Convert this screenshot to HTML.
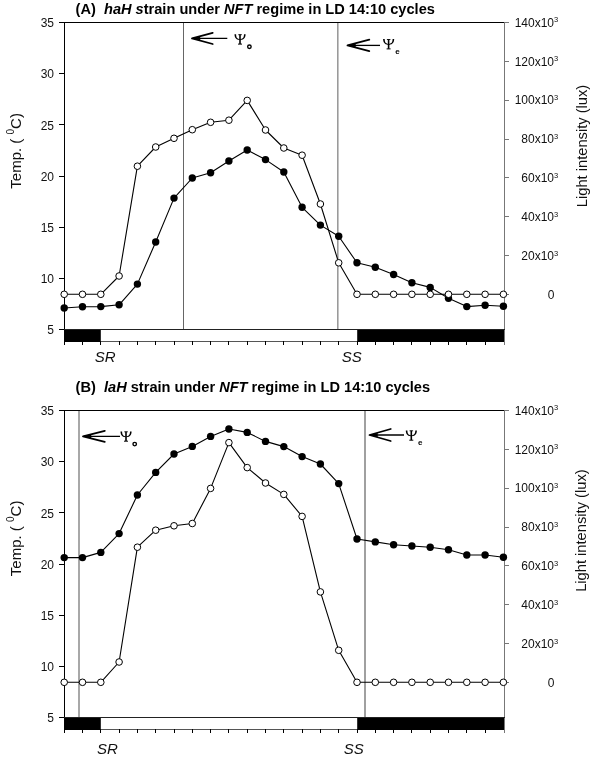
<!DOCTYPE html>
<html><head><meta charset="utf-8"><style>
html,body{margin:0;padding:0;background:#fff;}
svg{display:block;will-change:transform;}
text{font-family:"Liberation Sans", sans-serif;}
</style></head><body>
<svg width="600" height="758" viewBox="0 0 600 758">
<rect width="600" height="758" fill="#fff"/>
<rect x="183" y="22" width="1" height="307" fill="#666"/>
<rect x="337" y="22" width="1" height="307" fill="#9a9a9a"/>
<rect x="338" y="22" width="1" height="307" fill="#c4c4c4"/>
<rect x="64" y="329" width="36.80" height="13" fill="#000"/>
<rect x="357.20" y="329" width="146.80" height="13" fill="#000"/>
<rect x="100.80" y="341" width="256.40" height="1" fill="#555"/>
<rect x="64" y="341" width="1" height="4" fill="#000"/><rect x="82" y="341" width="1" height="4" fill="#000"/><rect x="100" y="341" width="1" height="4" fill="#000"/><rect x="119" y="341" width="1" height="4" fill="#000"/><rect x="137" y="341" width="1" height="4" fill="#000"/><rect x="155" y="341" width="1" height="4" fill="#000"/><rect x="174" y="341" width="1" height="4" fill="#000"/><rect x="192" y="341" width="1" height="4" fill="#000"/><rect x="210" y="341" width="1" height="4" fill="#000"/><rect x="228" y="341" width="1" height="4" fill="#000"/><rect x="247" y="341" width="1" height="4" fill="#000"/><rect x="265" y="341" width="1" height="4" fill="#000"/><rect x="283" y="341" width="1" height="4" fill="#000"/><rect x="302" y="341" width="1" height="4" fill="#000"/><rect x="320" y="341" width="1" height="4" fill="#000"/><rect x="338" y="341" width="1" height="4" fill="#000"/><rect x="357" y="341" width="1" height="4" fill="#000"/><rect x="375" y="341" width="1" height="4" fill="#000"/><rect x="393" y="341" width="1" height="4" fill="#000"/><rect x="411" y="341" width="1" height="4" fill="#000"/><rect x="430" y="341" width="1" height="4" fill="#000"/><rect x="448" y="341" width="1" height="4" fill="#000"/><rect x="466" y="341" width="1" height="4" fill="#000"/><rect x="485" y="341" width="1" height="4" fill="#000"/><rect x="504" y="341" width="1" height="4" fill="#000"/>
<rect x="59" y="22" width="446" height="1" fill="#000"/>
<rect x="64" y="22" width="1" height="323" fill="#000"/>
<rect x="504" y="22" width="1" height="323" fill="#777"/>
<rect x="59" y="329" width="446" height="1" fill="#222"/>
<rect x="59" y="22" width="5" height="1" fill="#000"/><text x="54" y="27.2" text-anchor="end" font-size="12" fill="#111">35</text>
<rect x="59" y="73" width="5" height="1" fill="#000"/><text x="54" y="78.4" text-anchor="end" font-size="12" fill="#111">30</text>
<rect x="59" y="124" width="5" height="1" fill="#000"/><text x="54" y="129.5" text-anchor="end" font-size="12" fill="#111">25</text>
<rect x="59" y="176" width="5" height="1" fill="#000"/><text x="54" y="180.7" text-anchor="end" font-size="12" fill="#111">20</text>
<rect x="59" y="227" width="5" height="1" fill="#000"/><text x="54" y="231.9" text-anchor="end" font-size="12" fill="#111">15</text>
<rect x="59" y="278" width="5" height="1" fill="#000"/><text x="54" y="283.0" text-anchor="end" font-size="12" fill="#111">10</text>
<rect x="59" y="329" width="5" height="1" fill="#000"/><text x="54" y="334.2" text-anchor="end" font-size="12" fill="#111">5</text>
<rect x="505" y="294" width="4" height="1" fill="#777"/><text x="554.4" y="299.4" text-anchor="end" font-size="12" fill="#111">0</text>
<rect x="505" y="255" width="4" height="1" fill="#777"/><text x="554" y="259.7" text-anchor="end" font-size="12" fill="#111">20x10</text><text x="553.9" y="255.5" font-size="7.5" fill="#111">3</text>
<rect x="505" y="216" width="4" height="1" fill="#777"/><text x="554" y="220.9" text-anchor="end" font-size="12" fill="#111">40x10</text><text x="553.9" y="216.7" font-size="7.5" fill="#111">3</text>
<rect x="505" y="177" width="4" height="1" fill="#777"/><text x="554" y="182.0" text-anchor="end" font-size="12" fill="#111">60x10</text><text x="553.9" y="177.8" font-size="7.5" fill="#111">3</text>
<rect x="505" y="139" width="4" height="1" fill="#777"/><text x="554" y="143.2" text-anchor="end" font-size="12" fill="#111">80x10</text><text x="553.9" y="139.0" font-size="7.5" fill="#111">3</text>
<rect x="505" y="100" width="4" height="1" fill="#777"/><text x="554" y="104.3" text-anchor="end" font-size="12" fill="#111">100x10</text><text x="553.9" y="100.1" font-size="7.5" fill="#111">3</text>
<rect x="505" y="61" width="4" height="1" fill="#777"/><text x="554" y="65.5" text-anchor="end" font-size="12" fill="#111">120x10</text><text x="553.9" y="61.3" font-size="7.5" fill="#111">3</text>
<rect x="505" y="22" width="4" height="1" fill="#777"/><text x="554" y="26.6" text-anchor="end" font-size="12" fill="#111">140x10</text><text x="553.9" y="22.4" font-size="7.5" fill="#111">3</text>
<polyline points="64.20,308.00 82.50,306.80 100.80,306.60 119.10,304.80 137.40,284.10 155.70,242.00 174.00,198.10 192.30,178.00 210.60,172.70 228.90,161.00 247.20,150.00 265.50,159.60 283.80,172.00 302.10,207.30 320.40,225.10 338.70,236.30 357.00,262.80 375.30,267.20 393.60,274.50 411.90,282.70 430.20,287.40 448.50,298.30 466.80,306.60 485.10,305.20 503.40,306.30" fill="none" stroke="#000" stroke-width="1.1" stroke-linejoin="round"/>
<circle cx="64.20" cy="308.00" r="3.7" fill="#000"/><circle cx="82.50" cy="306.80" r="3.7" fill="#000"/><circle cx="100.80" cy="306.60" r="3.7" fill="#000"/><circle cx="119.10" cy="304.80" r="3.7" fill="#000"/><circle cx="137.40" cy="284.10" r="3.7" fill="#000"/><circle cx="155.70" cy="242.00" r="3.7" fill="#000"/><circle cx="174.00" cy="198.10" r="3.7" fill="#000"/><circle cx="192.30" cy="178.00" r="3.7" fill="#000"/><circle cx="210.60" cy="172.70" r="3.7" fill="#000"/><circle cx="228.90" cy="161.00" r="3.7" fill="#000"/><circle cx="247.20" cy="150.00" r="3.7" fill="#000"/><circle cx="265.50" cy="159.60" r="3.7" fill="#000"/><circle cx="283.80" cy="172.00" r="3.7" fill="#000"/><circle cx="302.10" cy="207.30" r="3.7" fill="#000"/><circle cx="320.40" cy="225.10" r="3.7" fill="#000"/><circle cx="338.70" cy="236.30" r="3.7" fill="#000"/><circle cx="357.00" cy="262.80" r="3.7" fill="#000"/><circle cx="375.30" cy="267.20" r="3.7" fill="#000"/><circle cx="393.60" cy="274.50" r="3.7" fill="#000"/><circle cx="411.90" cy="282.70" r="3.7" fill="#000"/><circle cx="430.20" cy="287.40" r="3.7" fill="#000"/><circle cx="448.50" cy="298.30" r="3.7" fill="#000"/><circle cx="466.80" cy="306.60" r="3.7" fill="#000"/><circle cx="485.10" cy="305.20" r="3.7" fill="#000"/><circle cx="503.40" cy="306.30" r="3.7" fill="#000"/>
<polyline points="64.20,294.30 82.50,294.30 100.80,294.30 119.10,276.00 137.40,166.20 155.70,147.00 174.00,138.30 192.30,129.70 210.60,122.30 228.90,120.20 247.20,100.40 265.50,130.00 283.80,148.00 302.10,155.20 320.40,204.00 338.70,262.80 357.00,294.30 375.30,294.30 393.60,294.30 411.90,294.30 430.20,294.30 448.50,294.30 466.80,294.30 485.10,294.30 503.40,294.30" fill="none" stroke="#000" stroke-width="1.1" stroke-linejoin="round"/>
<circle cx="64.20" cy="294.30" r="3.3" fill="#fff" stroke="#000" stroke-width="1"/><circle cx="82.50" cy="294.30" r="3.3" fill="#fff" stroke="#000" stroke-width="1"/><circle cx="100.80" cy="294.30" r="3.3" fill="#fff" stroke="#000" stroke-width="1"/><circle cx="119.10" cy="276.00" r="3.3" fill="#fff" stroke="#000" stroke-width="1"/><circle cx="137.40" cy="166.20" r="3.3" fill="#fff" stroke="#000" stroke-width="1"/><circle cx="155.70" cy="147.00" r="3.3" fill="#fff" stroke="#000" stroke-width="1"/><circle cx="174.00" cy="138.30" r="3.3" fill="#fff" stroke="#000" stroke-width="1"/><circle cx="192.30" cy="129.70" r="3.3" fill="#fff" stroke="#000" stroke-width="1"/><circle cx="210.60" cy="122.30" r="3.3" fill="#fff" stroke="#000" stroke-width="1"/><circle cx="228.90" cy="120.20" r="3.3" fill="#fff" stroke="#000" stroke-width="1"/><circle cx="247.20" cy="100.40" r="3.3" fill="#fff" stroke="#000" stroke-width="1"/><circle cx="265.50" cy="130.00" r="3.3" fill="#fff" stroke="#000" stroke-width="1"/><circle cx="283.80" cy="148.00" r="3.3" fill="#fff" stroke="#000" stroke-width="1"/><circle cx="302.10" cy="155.20" r="3.3" fill="#fff" stroke="#000" stroke-width="1"/><circle cx="320.40" cy="204.00" r="3.3" fill="#fff" stroke="#000" stroke-width="1"/><circle cx="338.70" cy="262.80" r="3.3" fill="#fff" stroke="#000" stroke-width="1"/><circle cx="357.00" cy="294.30" r="3.3" fill="#fff" stroke="#000" stroke-width="1"/><circle cx="375.30" cy="294.30" r="3.3" fill="#fff" stroke="#000" stroke-width="1"/><circle cx="393.60" cy="294.30" r="3.3" fill="#fff" stroke="#000" stroke-width="1"/><circle cx="411.90" cy="294.30" r="3.3" fill="#fff" stroke="#000" stroke-width="1"/><circle cx="430.20" cy="294.30" r="3.3" fill="#fff" stroke="#000" stroke-width="1"/><circle cx="448.50" cy="294.30" r="3.3" fill="#fff" stroke="#000" stroke-width="1"/><circle cx="466.80" cy="294.30" r="3.3" fill="#fff" stroke="#000" stroke-width="1"/><circle cx="485.10" cy="294.30" r="3.3" fill="#fff" stroke="#000" stroke-width="1"/><circle cx="503.40" cy="294.30" r="3.3" fill="#fff" stroke="#000" stroke-width="1"/>
<path d="M227.3,38.4 L193.2,38.4" fill="none" stroke="#000" stroke-width="1.3"/><path d="M212.7,32.8 L192.0,38.4 L212.7,44.0" fill="none" stroke="#000" stroke-width="1.8" stroke-linejoin="round" stroke-linecap="round"/><path d="M191.2,38.4 L200.2,36.5 L200.2,40.3 Z" fill="#000"/>
<g transform="translate(240.0,34.4)" fill="none" stroke="#000"><path d="M0,0.2 L0,9.6" stroke-width="1.6"/><path d="M-1.7,0.3 L1.8,0.3" stroke-width="0.9"/><path d="M-2,9.7 L2,9.7" stroke-width="1.0"/><path d="M-5.5,-0.1 C-5.4,2.8 -4.6,5.3 -0.2,5.7 L-0.2,4.7 C-3.2,4.4 -3.8,2.8 -3.9,-0.1 Z" fill="#000" stroke="none"/><path d="M5.6,-0.1 C5.5,2.8 4.7,5.3 0.2,5.7 L0.2,4.7 C3.3,4.4 3.9,2.8 4.0,-0.1 Z" fill="#000" stroke="none"/><ellipse cx="9.4" cy="12.4" rx="1.75" ry="1.75" stroke-width="1.4"/></g>
<path d="M380,45.4 L348.7,45.4" fill="none" stroke="#000" stroke-width="1.3"/><path d="M369.3,39.699999999999996 L347.5,45.4 L369.3,51.1" fill="none" stroke="#000" stroke-width="1.8" stroke-linejoin="round" stroke-linecap="round"/><path d="M346.7,45.4 L355.7,43.5 L355.7,47.3 Z" fill="#000"/>
<g transform="translate(388.6,39.2)" fill="none" stroke="#000"><path d="M0,0.2 L0,9.6" stroke-width="1.6"/><path d="M-1.7,0.3 L1.8,0.3" stroke-width="0.9"/><path d="M-2,9.7 L2,9.7" stroke-width="1.0"/><path d="M-5.5,-0.1 C-5.4,2.8 -4.6,5.3 -0.2,5.7 L-0.2,4.7 C-3.2,4.4 -3.8,2.8 -3.9,-0.1 Z" fill="#000" stroke="none"/><path d="M5.6,-0.1 C5.5,2.8 4.7,5.3 0.2,5.7 L0.2,4.7 C3.3,4.4 3.9,2.8 4.0,-0.1 Z" fill="#000" stroke="none"/><text x="6.6" y="14.6" font-size="8" font-weight="bold" fill="#000" stroke="none">e</text></g>
<text x="94.7" y="362" font-size="15" font-style="italic" fill="#111">SR</text>
<text x="341.7" y="362" font-size="15" font-style="italic" fill="#111">SS</text>
<text transform="translate(20.8,150.9) rotate(-90)" text-anchor="middle" font-size="15" fill="#111" xml:space="preserve">Temp. ( <tspan font-size="10" dy="-7">0</tspan><tspan dy="7">C)</tspan></text>
<text transform="translate(586.5,146) rotate(-90)" text-anchor="middle" font-size="14.7" fill="#111">Light intensity (lux)</text>
<text x="75.6" y="14" font-size="14.6" font-weight="bold" fill="#000" xml:space="preserve">(A)  <tspan font-style="italic">haH s</tspan>train under <tspan font-style="italic">NFT</tspan> regime in LD 14:10 cycles</text>
<rect x="78" y="410" width="2" height="307" fill="#a8a8a8"/>
<rect x="364" y="410" width="2" height="307" fill="#a0a0a0"/>
<rect x="64" y="717" width="36.80" height="13" fill="#000"/>
<rect x="357.20" y="717" width="146.80" height="13" fill="#000"/>
<rect x="100.80" y="729" width="256.40" height="1" fill="#555"/>
<rect x="64" y="729" width="1" height="4" fill="#000"/><rect x="82" y="729" width="1" height="4" fill="#000"/><rect x="100" y="729" width="1" height="4" fill="#000"/><rect x="119" y="729" width="1" height="4" fill="#000"/><rect x="137" y="729" width="1" height="4" fill="#000"/><rect x="155" y="729" width="1" height="4" fill="#000"/><rect x="174" y="729" width="1" height="4" fill="#000"/><rect x="192" y="729" width="1" height="4" fill="#000"/><rect x="210" y="729" width="1" height="4" fill="#000"/><rect x="228" y="729" width="1" height="4" fill="#000"/><rect x="247" y="729" width="1" height="4" fill="#000"/><rect x="265" y="729" width="1" height="4" fill="#000"/><rect x="283" y="729" width="1" height="4" fill="#000"/><rect x="302" y="729" width="1" height="4" fill="#000"/><rect x="320" y="729" width="1" height="4" fill="#000"/><rect x="338" y="729" width="1" height="4" fill="#000"/><rect x="357" y="729" width="1" height="4" fill="#000"/><rect x="375" y="729" width="1" height="4" fill="#000"/><rect x="393" y="729" width="1" height="4" fill="#000"/><rect x="411" y="729" width="1" height="4" fill="#000"/><rect x="430" y="729" width="1" height="4" fill="#000"/><rect x="448" y="729" width="1" height="4" fill="#000"/><rect x="466" y="729" width="1" height="4" fill="#000"/><rect x="485" y="729" width="1" height="4" fill="#000"/><rect x="504" y="729" width="1" height="4" fill="#000"/>
<rect x="59" y="410" width="446" height="1" fill="#000"/>
<rect x="64" y="410" width="1" height="323" fill="#000"/>
<rect x="504" y="410" width="1" height="323" fill="#777"/>
<rect x="59" y="717" width="446" height="1" fill="#222"/>
<rect x="59" y="410" width="5" height="1" fill="#000"/><text x="54" y="415.2" text-anchor="end" font-size="12" fill="#111">35</text>
<rect x="59" y="461" width="5" height="1" fill="#000"/><text x="54" y="466.4" text-anchor="end" font-size="12" fill="#111">30</text>
<rect x="59" y="512" width="5" height="1" fill="#000"/><text x="54" y="517.5" text-anchor="end" font-size="12" fill="#111">25</text>
<rect x="59" y="564" width="5" height="1" fill="#000"/><text x="54" y="568.7" text-anchor="end" font-size="12" fill="#111">20</text>
<rect x="59" y="615" width="5" height="1" fill="#000"/><text x="54" y="619.9" text-anchor="end" font-size="12" fill="#111">15</text>
<rect x="59" y="666" width="5" height="1" fill="#000"/><text x="54" y="671.0" text-anchor="end" font-size="12" fill="#111">10</text>
<rect x="59" y="717" width="5" height="1" fill="#000"/><text x="54" y="722.2" text-anchor="end" font-size="12" fill="#111">5</text>
<rect x="505" y="682" width="4" height="1" fill="#777"/><text x="554.4" y="687.4" text-anchor="end" font-size="12" fill="#111">0</text>
<rect x="505" y="643" width="4" height="1" fill="#777"/><text x="554" y="647.7" text-anchor="end" font-size="12" fill="#111">20x10</text><text x="553.9" y="643.5" font-size="7.5" fill="#111">3</text>
<rect x="505" y="604" width="4" height="1" fill="#777"/><text x="554" y="608.9" text-anchor="end" font-size="12" fill="#111">40x10</text><text x="553.9" y="604.7" font-size="7.5" fill="#111">3</text>
<rect x="505" y="565" width="4" height="1" fill="#777"/><text x="554" y="570.0" text-anchor="end" font-size="12" fill="#111">60x10</text><text x="553.9" y="565.8" font-size="7.5" fill="#111">3</text>
<rect x="505" y="527" width="4" height="1" fill="#777"/><text x="554" y="531.2" text-anchor="end" font-size="12" fill="#111">80x10</text><text x="553.9" y="527.0" font-size="7.5" fill="#111">3</text>
<rect x="505" y="488" width="4" height="1" fill="#777"/><text x="554" y="492.3" text-anchor="end" font-size="12" fill="#111">100x10</text><text x="553.9" y="488.1" font-size="7.5" fill="#111">3</text>
<rect x="505" y="449" width="4" height="1" fill="#777"/><text x="554" y="453.5" text-anchor="end" font-size="12" fill="#111">120x10</text><text x="553.9" y="449.3" font-size="7.5" fill="#111">3</text>
<rect x="505" y="410" width="4" height="1" fill="#777"/><text x="554" y="414.6" text-anchor="end" font-size="12" fill="#111">140x10</text><text x="553.9" y="410.4" font-size="7.5" fill="#111">3</text>
<polyline points="64.20,557.60 82.50,557.60 100.80,552.40 119.10,533.60 137.40,495.00 155.70,472.40 174.00,454.00 192.30,446.40 210.60,436.40 228.90,429.00 247.20,432.40 265.50,441.40 283.80,446.60 302.10,456.60 320.40,464.00 338.70,483.60 357.00,539.00 375.30,541.90 393.60,544.80 411.90,546.00 430.20,547.20 448.50,549.80 466.80,555.00 485.10,555.00 503.40,557.30" fill="none" stroke="#000" stroke-width="1.1" stroke-linejoin="round"/>
<circle cx="64.20" cy="557.60" r="3.7" fill="#000"/><circle cx="82.50" cy="557.60" r="3.7" fill="#000"/><circle cx="100.80" cy="552.40" r="3.7" fill="#000"/><circle cx="119.10" cy="533.60" r="3.7" fill="#000"/><circle cx="137.40" cy="495.00" r="3.7" fill="#000"/><circle cx="155.70" cy="472.40" r="3.7" fill="#000"/><circle cx="174.00" cy="454.00" r="3.7" fill="#000"/><circle cx="192.30" cy="446.40" r="3.7" fill="#000"/><circle cx="210.60" cy="436.40" r="3.7" fill="#000"/><circle cx="228.90" cy="429.00" r="3.7" fill="#000"/><circle cx="247.20" cy="432.40" r="3.7" fill="#000"/><circle cx="265.50" cy="441.40" r="3.7" fill="#000"/><circle cx="283.80" cy="446.60" r="3.7" fill="#000"/><circle cx="302.10" cy="456.60" r="3.7" fill="#000"/><circle cx="320.40" cy="464.00" r="3.7" fill="#000"/><circle cx="338.70" cy="483.60" r="3.7" fill="#000"/><circle cx="357.00" cy="539.00" r="3.7" fill="#000"/><circle cx="375.30" cy="541.90" r="3.7" fill="#000"/><circle cx="393.60" cy="544.80" r="3.7" fill="#000"/><circle cx="411.90" cy="546.00" r="3.7" fill="#000"/><circle cx="430.20" cy="547.20" r="3.7" fill="#000"/><circle cx="448.50" cy="549.80" r="3.7" fill="#000"/><circle cx="466.80" cy="555.00" r="3.7" fill="#000"/><circle cx="485.10" cy="555.00" r="3.7" fill="#000"/><circle cx="503.40" cy="557.30" r="3.7" fill="#000"/>
<polyline points="64.20,682.30 82.50,682.30 100.80,682.30 119.10,662.00 137.40,547.20 155.70,530.20 174.00,525.80 192.30,523.50 210.60,488.40 228.90,442.60 247.20,467.60 265.50,483.00 283.80,494.40 302.10,516.40 320.40,591.90 338.70,650.30 357.00,682.30 375.30,682.30 393.60,682.30 411.90,682.30 430.20,682.30 448.50,682.30 466.80,682.30 485.10,682.30 503.40,682.30" fill="none" stroke="#000" stroke-width="1.1" stroke-linejoin="round"/>
<circle cx="64.20" cy="682.30" r="3.3" fill="#fff" stroke="#000" stroke-width="1"/><circle cx="82.50" cy="682.30" r="3.3" fill="#fff" stroke="#000" stroke-width="1"/><circle cx="100.80" cy="682.30" r="3.3" fill="#fff" stroke="#000" stroke-width="1"/><circle cx="119.10" cy="662.00" r="3.3" fill="#fff" stroke="#000" stroke-width="1"/><circle cx="137.40" cy="547.20" r="3.3" fill="#fff" stroke="#000" stroke-width="1"/><circle cx="155.70" cy="530.20" r="3.3" fill="#fff" stroke="#000" stroke-width="1"/><circle cx="174.00" cy="525.80" r="3.3" fill="#fff" stroke="#000" stroke-width="1"/><circle cx="192.30" cy="523.50" r="3.3" fill="#fff" stroke="#000" stroke-width="1"/><circle cx="210.60" cy="488.40" r="3.3" fill="#fff" stroke="#000" stroke-width="1"/><circle cx="228.90" cy="442.60" r="3.3" fill="#fff" stroke="#000" stroke-width="1"/><circle cx="247.20" cy="467.60" r="3.3" fill="#fff" stroke="#000" stroke-width="1"/><circle cx="265.50" cy="483.00" r="3.3" fill="#fff" stroke="#000" stroke-width="1"/><circle cx="283.80" cy="494.40" r="3.3" fill="#fff" stroke="#000" stroke-width="1"/><circle cx="302.10" cy="516.40" r="3.3" fill="#fff" stroke="#000" stroke-width="1"/><circle cx="320.40" cy="591.90" r="3.3" fill="#fff" stroke="#000" stroke-width="1"/><circle cx="338.70" cy="650.30" r="3.3" fill="#fff" stroke="#000" stroke-width="1"/><circle cx="357.00" cy="682.30" r="3.3" fill="#fff" stroke="#000" stroke-width="1"/><circle cx="375.30" cy="682.30" r="3.3" fill="#fff" stroke="#000" stroke-width="1"/><circle cx="393.60" cy="682.30" r="3.3" fill="#fff" stroke="#000" stroke-width="1"/><circle cx="411.90" cy="682.30" r="3.3" fill="#fff" stroke="#000" stroke-width="1"/><circle cx="430.20" cy="682.30" r="3.3" fill="#fff" stroke="#000" stroke-width="1"/><circle cx="448.50" cy="682.30" r="3.3" fill="#fff" stroke="#000" stroke-width="1"/><circle cx="466.80" cy="682.30" r="3.3" fill="#fff" stroke="#000" stroke-width="1"/><circle cx="485.10" cy="682.30" r="3.3" fill="#fff" stroke="#000" stroke-width="1"/><circle cx="503.40" cy="682.30" r="3.3" fill="#fff" stroke="#000" stroke-width="1"/>
<path d="M120,436.3 L84.2,436.3" fill="none" stroke="#000" stroke-width="1.3"/><path d="M104.8,430.8 L83.0,436.3 L104.8,441.8" fill="none" stroke="#000" stroke-width="1.8" stroke-linejoin="round" stroke-linecap="round"/><path d="M82.2,436.3 L91.2,434.40000000000003 L91.2,438.2 Z" fill="#000"/>
<g transform="translate(126.0,431.5)" fill="none" stroke="#000"><path d="M0,0.2 L0,9.6" stroke-width="1.6"/><path d="M-1.7,0.3 L1.8,0.3" stroke-width="0.9"/><path d="M-2,9.7 L2,9.7" stroke-width="1.0"/><path d="M-5.5,-0.1 C-5.4,2.8 -4.6,5.3 -0.2,5.7 L-0.2,4.7 C-3.2,4.4 -3.8,2.8 -3.9,-0.1 Z" fill="#000" stroke="none"/><path d="M5.6,-0.1 C5.5,2.8 4.7,5.3 0.2,5.7 L0.2,4.7 C3.3,4.4 3.9,2.8 4.0,-0.1 Z" fill="#000" stroke="none"/><ellipse cx="8.700000000000001" cy="12.6" rx="1.75" ry="1.75" stroke-width="1.4"/></g>
<path d="M404,435.0 L370.7,435.0" fill="none" stroke="#000" stroke-width="1.3"/><path d="M390.7,429.0 L369.5,435.0 L390.7,441.0" fill="none" stroke="#000" stroke-width="1.8" stroke-linejoin="round" stroke-linecap="round"/><path d="M368.7,435.0 L377.7,433.1 L377.7,436.9 Z" fill="#000"/>
<g transform="translate(411.3,430.5)" fill="none" stroke="#000"><path d="M0,0.2 L0,9.6" stroke-width="1.6"/><path d="M-1.7,0.3 L1.8,0.3" stroke-width="0.9"/><path d="M-2,9.7 L2,9.7" stroke-width="1.0"/><path d="M-5.5,-0.1 C-5.4,2.8 -4.6,5.3 -0.2,5.7 L-0.2,4.7 C-3.2,4.4 -3.8,2.8 -3.9,-0.1 Z" fill="#000" stroke="none"/><path d="M5.6,-0.1 C5.5,2.8 4.7,5.3 0.2,5.7 L0.2,4.7 C3.3,4.4 3.9,2.8 4.0,-0.1 Z" fill="#000" stroke="none"/><text x="6.6" y="14.6" font-size="8" font-weight="bold" fill="#000" stroke="none">e</text></g>
<text x="97" y="754" font-size="15" font-style="italic" fill="#111">SR</text>
<text x="343.7" y="753.5" font-size="15" font-style="italic" fill="#111">SS</text>
<text transform="translate(21,538.4) rotate(-90)" text-anchor="middle" font-size="15" fill="#111" xml:space="preserve">Temp. ( <tspan font-size="10" dy="-7">0</tspan><tspan dy="7">C)</tspan></text>
<text transform="translate(586,530.6) rotate(-90)" text-anchor="middle" font-size="14.7" fill="#111">Light intensity (lux)</text>
<text x="75.6" y="392.1" font-size="14.6" font-weight="bold" fill="#000" xml:space="preserve">(B)  <tspan font-style="italic">laH</tspan> strain under <tspan font-style="italic">NFT</tspan> regime in LD 14:10 cycles</text>

</svg>
</body></html>
